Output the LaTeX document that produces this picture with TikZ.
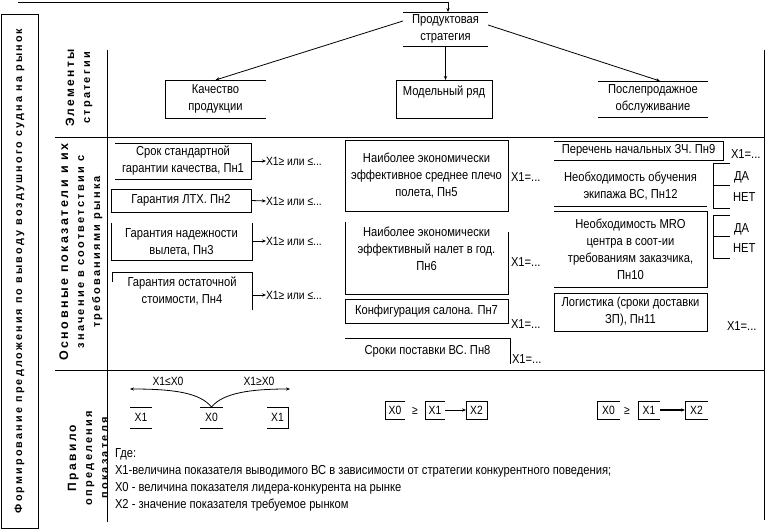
\documentclass[tikz,border=0pt]{standalone}
\usepackage{fontspec}
\setmainfont{Liberation Sans}[FakeStretch=0.86]
\newfontfamily\lblfont{Liberation Sans}[LetterSpace=20]
\usetikzlibrary{arrows.meta,calc}
\begin{document}
\begin{tikzpicture}[x=1bp,y=-1bp,
  every node/.style={inner sep=0pt,outer sep=0pt},
  txt/.style={font=\fontsize{13bp}{17bp}\selectfont,align=center},
  sml/.style={font=\fontsize{12bp}{13bp}\selectfont},
  ln/.style={line width=0.8bp},
  arr/.style={ln,-{Stealth[length=4bp,width=3.2bp]}},
  vlbl/.style={rotate=90,font=\lblfont\bfseries\fontsize{11bp}{16bp}\selectfont,align=center},
]
\useasboundingbox (0,0) rectangle (766,530);

% ---------- frame ----------
\node[draw,ln,minimum width=37bp,minimum height=514bp] (outer) at (19.5,271) {};
\node[vlbl] (outerlbl) at (outer.center) {{\fontsize{10.8bp}{16bp}\selectfont Формирование предложения по выводу воздушного судна на рынок}};
\draw[ln] (107,50) -- (107,522);
\draw[ln] (764,50) -- (764,520);
\draw[ln] (55,137) -- (764,137);
\draw[ln] (55,370) -- (764,370);

\node[vlbl] (lblA) at (79,88) {{\fontsize{12bp}{16bp}\selectfont Элементы}\\стратегии};
\node[vlbl] (lblB) at (81,252) {{\fontsize{12.5bp}{16bp}\selectfont Основные показатели и их}\\значение в соответствии с\\требованиями рынка};
\node[vlbl] (lblC) at (88,458) {{\fontsize{12bp}{16bp}\selectfont Правило}\\определения\\показателя};

% ---------- strategy ----------
\node[txt,minimum width=85bp,minimum height=34bp] (ps) at (445.5,29) {Продуктовая\\стратегия};
\draw[ln] (ps.north west) -- (ps.north east);
\draw[ln] (ps.south west) -- (ps.south east);
\coordinate (topL) at (18,2);
\coordinate (topR) at (448,2);
\draw[ln] (topL) -- (topR);
\draw[arr] (topR) -- (topR |- ps.north);

\node[txt,minimum width=101bp,minimum height=38bp] (q) at (215.5,99) {Качество\\продукции};
\draw[ln] (q.north east) -- (q.north west) -- (q.south west) -- (q.south east);

\node[draw,ln,minimum width=96bp,minimum height=38bp] (m) at (444,99) {};
\node[txt] (mt) at (444,92) {Модельный ряд};

\node[txt,minimum width=110bp,minimum height=36bp] (a) at (653,99) {Послепродажное\\обслуживание};
\draw[ln] (a.north west) -- (a.north east);
\draw[ln] (a.south west) -- (a.south east);

\draw[arr] ($(ps.west)+(0,-8)$) -- (q.north);
\draw[arr] (ps.south) -- (ps.south |- m.north);
\draw[arr] ($(ps.east)+(0,-4)$) -- ($(a.north)+(7,0)$);

% ---------- column 1 ----------
\node[txt,minimum width=136bp,minimum height=36bp] (r1) at (183,161) {Срок стандартной\\гарантии качества, Пн1};
\draw[ln] (r1.north west) -- (r1.north east) -- (r1.south east) -- (r1.south west);
\node[sml,anchor=west] (v1) at (266,161) {X1≥ или ≤...};
\draw[arr] (r1.east) -- (v1.west);

\node[txt,draw,ln,minimum width=140bp,minimum height=23bp] (r2) at (181,200.5) {Гарантия ЛТХ. Пн2};
\node[sml,anchor=west] (v2) at (266,201) {X1≥ или ≤...};
\draw[arr] (r2.east) -- (v2.west);

\node[txt,minimum width=141bp,minimum height=37bp] (r3) at (181.5,242) {Гарантия надежности\\вылета, Пн3};
\draw[ln] (r3.north west) -- (r3.south west) -- (r3.south east) -- (r3.north east);
\node[sml,anchor=west] (v3) at (266,241) {X1≥ или ≤...};
\draw[arr] (r3.east |- v3.west) -- (v3.west);

\node[txt,minimum width=140bp,minimum height=38bp] (r4) at (182,291) {Гарантия остаточной\\стоимости, Пн4};
\draw[ln] (r4.south east) -- (r4.north east) -- (r4.north west) -- ++(0,10);
\node[sml,anchor=west] (v4) at (266,295) {X1≥ или ≤...};
\draw[arr] (r4.east |- v4.west) -- (v4.west);

% ---------- column 2 ----------
\node[txt,draw,ln,minimum width=163bp,minimum height=71bp] (r5) at (426.5,175.5) {Наиболее экономически\\эффективное среднее плечо\\полета, Пн5};
\node[txt,anchor=west] (w5) at (511,177) {X1=...};

\node[minimum width=163bp,minimum height=72bp] (r6) at (426.5,258) {};
\draw[ln] (r6.north west) -- (r6.south west) -- (r6.south east) -- ($(r6.north east)+(0,10)$);
\node[txt] (r6t) at (426.5,249) {Наиболее экономически\\эффективный налет в год.\\Пн6};
\node[txt,anchor=west] (w6) at (511,262) {X1=...};

\node[txt,draw,ln,minimum width=163bp,minimum height=24bp] (r7) at (426.5,311) {Конфигурация салона. Пн7};
\node[txt,anchor=west] (w7) at (511,324) {X1=...};

\node[txt,minimum width=165bp,minimum height=26bp] (r8) at (427.5,351) {Сроки поставки ВС. Пн8};
\draw[ln] (r8.north west) -- (r8.north east) -- (r8.south east);
\node[txt,anchor=west] (w8) at (512,359) {X1=...};

% ---------- column 3 ----------
\node[txt,minimum width=169bp,minimum height=19bp] (r9) at (638.5,150.5) {Перечень начальных ЗЧ. Пн9};
\draw[ln] (r9.north west) -- (r9.north east) -- (r9.south east) -- (r9.south west);
\node[txt,anchor=west] (w9) at (731,154) {X1=...};

\node[txt,minimum width=153bp,minimum height=40bp] (r12) at (630.5,186) {Необходимость обучения\\экипажа ВС, Пн12};
\draw[ln] (r12.south west) -- (r12.south east);
\node[minimum width=17bp,minimum height=45bp] (yn1) at (721.5,185.5) {};
\draw[ln] (yn1.north east) -- (yn1.north west) -- (yn1.south west) -- (yn1.south east);
\draw[ln] (yn1.west) -- (yn1.east);
\node[txt,anchor=west] (da1) at (734,177) {ДА};
\node[txt,anchor=west] (net1) at (733,197) {НЕТ};

\node[txt,minimum width=153bp,minimum height=76bp] (r10) at (630.5,249) {Необходимость MRO\\центра в соот-ии\\требованиям заказчика,\\Пн10};
\draw[ln] (r10.north west) -- (r10.north east) -- (r10.south east) -- (r10.south west);
\node[minimum width=17bp,minimum height=43bp] (yn2) at (721.5,236.5) {};
\draw[ln] (yn2.north east) -- (yn2.north west) -- (yn2.south west) -- (yn2.south east);
\draw[ln] (yn2.west) -- (yn2.east);
\node[txt,anchor=west] (da2) at (734,229) {ДА};
\node[txt,anchor=west] (net2) at (733,248) {НЕТ};

\node[txt,draw,ln,minimum width=153bp,minimum height=38bp] (r11) at (630.5,312) {Логистика (сроки доставки\\ЗП), Пн11};
\node[txt,anchor=west] (w11) at (727,326) {X1=...};

% ---------- rule section ----------
\node[sml,minimum width=22bp,minimum height=21bp] (bx1) at (141,417.5) {X1};
\draw[ln] (bx1.north west) -- (bx1.north east);
\draw[ln] (bx1.south west) -- (bx1.south east);
\node[sml,minimum width=23bp,minimum height=21bp] (bx0) at (211.5,417.5) {X0};
\draw[ln] (bx0.north west) -- (bx0.north east);
\draw[ln] (bx0.south west) -- (bx0.south east);
\node[sml,minimum width=21bp,minimum height=21bp] (bx2) at (277.5,417.5) {X1};
\draw[ln] (bx2.north west) -- (bx2.north east) -- (bx2.south east) -- (bx2.south west);
\node[sml] (l1) at (168,381) {X1≤X0};
\node[sml] (l2) at (259,381) {X1≥X0};
\coordinate (cl) at (130,389);
\coordinate (cr) at (290,389);
\draw[arr] (bx0.north) .. controls (200,393) and (175,389) .. (cl);
\draw[arr] (bx0.north) .. controls (223,393) and (250,389) .. (cr);

\node[sml,minimum width=20bp,minimum height=18bp] (f0) at (395,410) {X0};
\draw[ln] (f0.north east) -- (f0.north west) -- (f0.south west) -- (f0.south east);
\node[sml] (fge) at (415,411) {≥};
\node[sml,minimum width=20bp,minimum height=18bp] (f1) at (435,410) {X1};
\draw[ln] (f1.north east) -- (f1.north west) -- (f1.south west) -- (f1.south east);
\node[sml,draw,ln,minimum width=21bp,minimum height=18bp] (f2) at (476.5,410) {X2};
\draw[arr] (f1.east) -- (f2.west);

\node[sml,minimum width=23bp,minimum height=18bp] (g0) at (608.5,410) {X0};
\draw[ln] (g0.north east) -- (g0.north west) -- (g0.south west) -- (g0.south east);
\node[sml] (gge) at (627,411) {≥};
\node[sml,minimum width=22bp,minimum height=18bp] (g1) at (649,410) {X1};
\draw[ln] (g1.north east) -- (g1.north west) -- (g1.south west) -- (g1.south east);
\node[sml,minimum width=23bp,minimum height=18bp] (g2) at (696.5,410) {X2};
\draw[ln] (g2.north east) -- (g2.north west) -- (g2.south west) -- (g2.south east);
\draw[arr,line width=1.3bp] (g1.east) -- (g2.west);

% ---------- legend ----------
\node[txt,anchor=west] (lg0) at (115,454) {Где:};
\node[txt,anchor=west] (lg1) at (115,471) {X1-величина показателя выводимого ВС в зависимости от стратегии конкурентного поведения;};
\node[txt,anchor=west] (lg2) at (115,488) {X0 - величина показателя лидера-конкурента на рынке};
\node[txt,anchor=west] (lg3) at (115,505) {X2 - значение показателя требуемое рынком};
\end{tikzpicture}
\end{document}
